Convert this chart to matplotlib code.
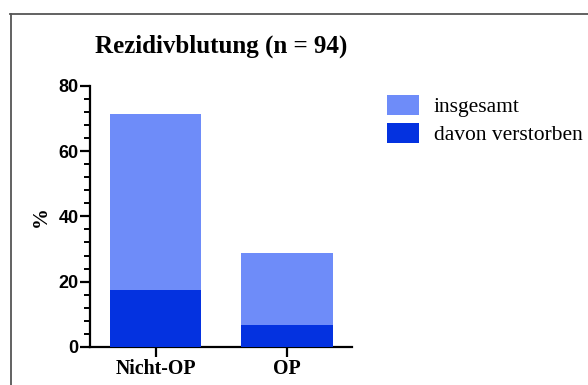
import numpy as np
import matplotlib
matplotlib.use('Agg')
from matplotlib import pyplot as plt
from matplotlib.ticker import MultipleLocator
from matplotlib.lines import Line2D

# Rezidivblutung, Anteile in Prozent
gruppen = ['Nicht-OP', 'OP']
insgesamt = [71.3, 28.7]
verstorben = [17.3, 6.8]

hell = '#6e8cf9'
dunkel = '#0432e0'
serif = 'Liberation Serif'
sans = 'Liberation Sans'

fig = plt.figure(figsize=(5.88, 3.85), dpi=100)
ax = fig.add_axes([0.153, 0.099, 0.446, 0.678])

x = np.arange(len(gruppen))
ax.bar(x, insgesamt, width=0.7, color=hell, label='insgesamt', zorder=2)
ax.bar(x, verstorben, width=0.7, color=dunkel, label='davon verstorben', zorder=3)

ax.set_xlim(-0.5, 1.5)
ax.set_ylim(0, 80)
ax.yaxis.set_major_locator(MultipleLocator(20))
ax.yaxis.set_minor_locator(MultipleLocator(4))
ax.set_xticks(x)
ax.set_xticklabels(gruppen, fontfamily=serif, fontweight='bold', fontsize=14.3)
for t in ax.get_yticklabels():
    t.set_fontfamily(sans)
    t.set_fontweight('bold')
    t.set_fontsize(13)

for s in ['top', 'right']:
    ax.spines[s].set_visible(False)
for s in ['left', 'bottom']:
    ax.spines[s].set_linewidth(1.6)
ax.tick_params(axis='y', which='major', length=7, width=1.6, pad=1)
ax.tick_params(axis='y', which='minor', length=4, width=1.4)
ax.tick_params(axis='x', which='major', length=7, width=1.6, pad=2)

ax.set_ylabel('%', fontfamily=serif, fontweight='bold', fontsize=15, labelpad=6)
ax.set_title('Rezidivblutung (n = 94)', fontfamily=serif, fontweight='bold',
             fontsize=18, pad=24)

leg = ax.legend(loc='upper left', bbox_to_anchor=(1.134, 0.965), frameon=False,
                prop={'family': serif, 'size': 15.5}, handlelength=1.45,
                handleheight=1.05, handletextpad=0.7, labelspacing=0.25,
                borderaxespad=0, borderpad=0)

# Rahmen um die Grafik
fig.add_artist(Line2D([10.5/588, 10.5/588], [0, 1-13.5/385], transform=fig.transFigure,
                      color='#555555', lw=1.3))
fig.add_artist(Line2D([10/588, 1], [1-13.5/385, 1-13.5/385], transform=fig.transFigure,
                      color='#555555', lw=1.3))

fig.savefig('out.png', dpi=100)
